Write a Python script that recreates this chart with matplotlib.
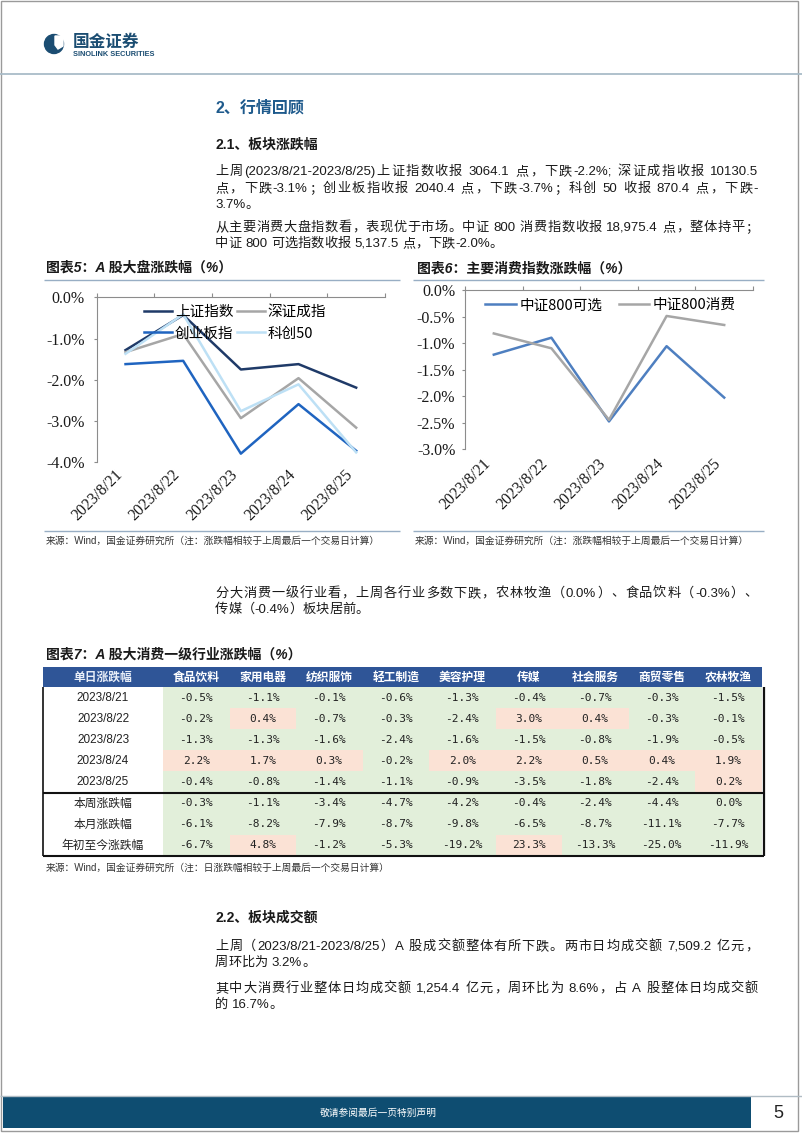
import re
import numpy as np
import matplotlib
matplotlib.use('Agg')
import matplotlib.pyplot as plt
from matplotlib.patches import Rectangle, Circle, Polygon
from matplotlib.font_manager import FontProperties

# ---------------- data ----------------
dates = ['2023/8/21', '2023/8/22', '2023/8/23', '2023/8/24', '2023/8/25']

sh_index = [-1.28, -0.43, -1.75, -1.62, -2.19]   # 上证指数
sz_index = [-1.33, -0.89, -2.93, -1.96, -3.16]   # 深证成指
cy_index = [-1.62, -1.54, -3.79, -2.59, -3.72]   # 创业板指
kc_index = [-1.37, -0.41, -2.76, -2.11, -3.76]   # 科创50

csi800_opt = [-1.22, -0.90, -2.48, -1.06, -2.03]  # 中证800可选
csi800_con = [-0.82, -1.10, -2.45, -0.49, -0.66]  # 中证800消费

tab_cols = ['食品饮料', '家用电器', '纺织服饰', '轻工制造', '美容护理',
            '传媒', '社会服务', '商贸零售', '农林牧渔']
tab_rows = ['2023/8/21', '2023/8/22', '2023/8/23', '2023/8/24', '2023/8/25',
            '本周涨跌幅', '本月涨跌幅', '年初至今涨跌幅']
row_0821 = [-0.5, -1.1, -0.1, -0.6, -1.3, -0.4, -0.7, -0.3, -1.5]
row_0822 = [-0.2, 0.4, -0.7, -0.3, -2.4, 3.0, 0.4, -0.3, -0.1]
row_0823 = [-1.3, -1.3, -1.6, -2.4, -1.6, -1.5, -0.8, -1.9, -0.5]
row_0824 = [2.2, 1.7, 0.3, -0.2, 2.0, 2.2, 0.5, 0.4, 1.9]
row_0825 = [-0.4, -0.8, -1.4, -1.1, -0.9, -3.5, -1.8, -2.4, 0.2]
row_week = [-0.3, -1.1, -3.4, -4.7, -4.2, -0.4, -2.4, -4.4, 0.0]
row_month = [-6.1, -8.2, -7.9, -8.7, -9.8, -6.5, -8.7, -11.1, -7.7]
row_ytd = [-6.7, 4.8, -1.2, -5.3, -19.2, 23.3, -13.3, -25.0, -11.9]
tab_values = [row_0821, row_0822, row_0823, row_0824, row_0825,
              row_week, row_month, row_ytd]

# ---------------- page setup ----------------
W, H = 802, 1133
fig = plt.figure(figsize=(W / 100, H / 100), dpi=100)
page = fig.add_axes([0, 0, 1, 1])
page.set_xlim(0, W)
page.set_ylim(H, 0)
page.axis('off')
renderer = fig.canvas.get_renderer()

SANS = ['Liberation Sans', 'Noto Sans CJK SC']
SERIF = ['Liberation Serif', 'Noto Sans CJK SC']
CJK = ['Noto Sans CJK SC', 'DejaVu Sans']


def ptext(x, y, s, **kw):
    return page.text(x, y, s, **kw)


def hline(x0, x1, y, color, lw):
    page.plot([x0, x1], [y, y], color=color, lw=lw, solid_capstyle='butt')


def vline(x, y0, y1, color, lw):
    page.plot([x, x], [y0, y1], color=color, lw=lw, solid_capstyle='butt')


def para_line(s, y, x0=215, x1=758, justify=True, size=9.5, color='#1a1a1a'):
    tokens = re.findall(r'[!-~]+| +|.', s)
    kw = dict(family=SANS, fontsize=size, color=color)
    em = size * 100 / 72
    widths = []
    for tok in tokens:
        if tok.strip() == '':
            widths.append(0.28 * em * len(tok))
        else:
            t = page.text(0, 0, tok, **kw)
            widths.append(t.get_window_extent(renderer).width)
            t.remove()
    gap = 0.0
    if justify and len(tokens) > 1:
        gap = (x1 - x0 - sum(widths)) / (len(tokens) - 1)
    x = x0
    for tok, w in zip(tokens, widths):
        if tok.strip() != '':
            page.text(x, y + 0.36 * em, tok, ha='left', va='baseline', **kw)
        x += w + gap


# page border and header
page.add_patch(Rectangle((1, 1), 797, 1130, fill=False, ec='#9a9a9a', lw=1.0))
hline(0, W, 73.5, '#a9bcc8', 1.3)

# logo
page.add_patch(Circle((54, 44), 9.5, color='#1b4d72'))
page.add_patch(Polygon([[55, 36], [63, 36], [63, 46], [58, 49], [55, 45]],
                       closed=True, color='white'))
ptext(73, 42, '国金证券', family=CJK, fontsize=12, weight='bold', color='#1b4d72',
      va='center', ha='left')
ptext(73, 54.5, 'SINOLINK SECURITIES', family=SANS, fontsize=5.3, weight='bold',
      color='#1b4d72', va='center', ha='left')

# section headings and paragraphs
ptext(215, 108, '2、行情回顾', family=SANS, fontsize=11.5, weight='bold',
      color='#1e5a8c', va='center', ha='left')
ptext(215, 145, '2.1、板块涨跌幅', family=SANS, fontsize=10, weight='bold',
      color='#1a1a1a', va='center', ha='left')
para_line('上周(2023/8/21-2023/8/25)上证指数收报 3064.1 点，下跌-2.2%; 深证成指收报 10130.5', 170)
para_line('点，下跌-3.1%；创业板指收报 2040.4 点，下跌-3.7%；科创 50 收报 870.4 点，下跌-', 187)
para_line('3.7%。', 203, justify=False)
para_line('从主要消费大盘指数看，表现优于市场。中证 800 消费指数收报 18,975.4 点，整体持平；', 226)
para_line('中证 800 可选指数收报 5,137.5 点，下跌-2.0%。', 242, justify=False)

# chart titles / rules / sources
TITLE_KW = dict(family=SANS, fontsize=10, weight='bold', style='italic',
                color='#1a1a1a', va='center', ha='left')
ptext(46, 268, '图表5：A 股大盘涨跌幅（%）', **TITLE_KW)
ptext(417, 268, '图表6：主要消费指数涨跌幅（%）', **TITLE_KW)
RULE = '#98aec4'
hline(44, 400, 279.5, RULE, 1.0)
hline(413, 764, 279.5, RULE, 1.0)
hline(44, 400, 531, RULE, 1.0)
hline(413, 764, 531, RULE, 1.0)
SRC_KW = dict(family=SANS, fontsize=7, color='#333333', va='center', ha='left')
ptext(46, 541, '来源：Wind，国金证券研究所（注：涨跌幅相较于上周最后一个交易日计算）', **SRC_KW)
ptext(415, 541, '来源：Wind，国金证券研究所（注：涨跌幅相较于上周最后一个交易日计算）', **SRC_KW)

para_line('分大消费一级行业看，上周各行业多数下跌，农林牧渔（0.0%）、食品饮料（-0.3%）、', 592)
para_line('传媒（-0.4%）板块居前。', 608, justify=False)


# ---------------- charts ----------------
def ax_px(x0, y0, x1, y1):
    return fig.add_axes([x0 / W, 1 - y1 / H, (x1 - x0) / W, (y1 - y0) / H])


def style_axis(ax, ymin, ystep, xpad, ypad):
    ax.set_xlim(-0.5, len(dates) - 0.5)
    ax.set_ylim(ymin, 0)
    for s in ['right', 'bottom']:
        ax.spines[s].set_visible(False)
    for s in ['left', 'top']:
        ax.spines[s].set_color('#8c8c8c')
        ax.spines[s].set_linewidth(0.8)
    ax.set_yticks(np.arange(0, ymin - 1e-9, -ystep))
    ax.yaxis.set_major_formatter(matplotlib.ticker.FuncFormatter(lambda v, p: f'{v:.1f}%'))
    ax.tick_params(axis='y', length=2.5, width=0.8, color='#8c8c8c', pad=ypad,
                   labelsize=11.5, labelcolor='#1a1a1a')
    for lb in ax.get_yticklabels():
        lb.set_family(SERIF)
    ax.set_xticks(range(len(dates)))
    ax.set_xticklabels(dates, rotation=45, ha='right', family=SERIF, fontsize=11.5,
                       color='#1a1a1a')
    ax.tick_params(axis='x', which='major', length=0, pad=xpad)
    ax.set_xticks(np.arange(-0.5, len(dates), 1.0), minor=True)
    ax.tick_params(axis='x', which='minor', top=True, bottom=False, direction='out',
                   length=3, width=0.8, color='#8c8c8c')
    ax.patch.set_alpha(0)


x = np.arange(len(dates))
ax5 = ax_px(96.7, 297.3, 385, 462.3)
h1, = ax5.plot(x, sh_index, color='#1f3a68', lw=1.8, label='上证指数')
h2, = ax5.plot(x, sz_index, color='#a6a6a6', lw=1.8, label='深证成指')
h3, = ax5.plot(x, cy_index, color='#1f64c0', lw=1.8, label='创业板指')
h4, = ax5.plot(x, kc_index, color='#bde0f5', lw=1.8, label='科创50')
style_axis(ax5, -4.0, 1.0, xpad=3, ypad=6.0)
ax5.legend(handles=[h1, h3, h2, h4], loc='upper left', ncol=2,
           bbox_to_anchor=(137 / W, 1 - 298 / H), bbox_transform=fig.transFigure,
           frameon=False, borderpad=0, handlelength=1.9, handletextpad=0.2,
           columnspacing=0.25, labelspacing=0.5,
           prop=FontProperties(family=CJK, size=10.5))

ax6 = ax_px(465, 290, 753, 449)
g1, = ax6.plot(x, csi800_opt, color='#4e7fc0', lw=1.8, label='中证800可选')
g2, = ax6.plot(x, csi800_con, color='#a6a6a6', lw=1.8, label='中证800消费')
style_axis(ax6, -3.0, 0.5, xpad=5, ypad=4.5)
ax6.legend(handles=[g1, g2], loc='upper left', ncol=2,
           bbox_to_anchor=(478 / W, 1 - 291 / H), bbox_transform=fig.transFigure,
           frameon=False, borderpad=0, handlelength=2.1, handletextpad=0.25,
           columnspacing=1.1, prop=FontProperties(family=CJK, size=10.5))

# ---------------- table ----------------
ptext(46, 655, '图表7：A 股大消费一级行业涨跌幅（%）', **TITLE_KW)
tx0, first_w, col_w = 43, 120, 66.5
head_top, head_h, row_h = 667, 20, 21.1
tx1 = tx0 + first_w + col_w * len(tab_cols)
body_top = head_top + head_h
page.add_patch(Rectangle((tx0, head_top), tx1 - tx0, head_h, color='#2f5597', lw=0))
ptext(tx0 + first_w / 2, head_top + head_h / 2, '单日涨跌幅', family=CJK, fontsize=8.5,
      weight='bold', color='#e8eef8', ha='center', va='center')
for j, c in enumerate(tab_cols):
    cx = tx0 + first_w + (j + 0.5) * col_w
    ptext(cx, head_top + head_h / 2, c, family=CJK, fontsize=8.5, weight='bold',
          color='white', ha='center', va='center')
for i, (rname, vals) in enumerate(zip(tab_rows, tab_values)):
    ry = body_top + i * row_h
    cy = ry + row_h / 2
    fam = SANS if rname[0].isdigit() else CJK
    ptext(tx0 + first_w / 2, cy, rname, family=fam, fontsize=8.5, color='#222222',
          ha='center', va='center')
    for j, v in enumerate(vals):
        cx0 = tx0 + first_w + j * col_w
        face = '#fbe2d5' if v > 0 else '#e2efda'
        page.add_patch(Rectangle((cx0, ry), col_w, row_h, color=face, lw=0))
        ptext(cx0 + col_w / 2, cy, f'{v:.1f}%', family=['DejaVu Sans Mono'],
              fontsize=8, color='#222222', ha='center', va='center')
body_bot = body_top + row_h * len(tab_rows)
vline(tx0, body_top, body_bot, '#111111', 1.2)
vline(tx1 + 2, body_top, body_bot, '#111111', 1.6)
hline(tx0, tx1 + 2, body_top + 5 * row_h, '#111111', 1.5)
hline(tx0, tx1 + 2, body_bot, '#111111', 1.5)
ptext(46, 868, '来源：Wind，国金证券研究所（注：日涨跌幅相较于上周最后一个交易日计算）', **SRC_KW)

# ---------------- section 2.2 ----------------
ptext(215, 918, '2.2、板块成交额', family=SANS, fontsize=10, weight='bold',
      color='#1a1a1a', va='center', ha='left')
para_line('上周（2023/8/21-2023/8/25）A 股成交额整体有所下跌。两市日均成交额 7,509.2 亿元，', 945)
para_line('周环比为 3.2%。', 961, justify=False)
para_line('其中大消费行业整体日均成交额 1,254.4 亿元，周环比为 8.6%，占 A 股整体日均成交额', 987)
para_line('的 16.7%。', 1003, justify=False)

# ---------------- footer ----------------
hline(0, W, 1096, '#b0bcc4', 1.0)
page.add_patch(Rectangle((3, 1097), 748, 31, color='#0e4d71', lw=0))
ptext(378, 1112.5, '敬请参阅最后一页特别声明', family=CJK, fontsize=7, color='white',
      ha='center', va='center')
ptext(778, 1113, '5', family=SANS, fontsize=13, color='#222222', ha='center', va='center')

fig.savefig('out.png', dpi=100)
